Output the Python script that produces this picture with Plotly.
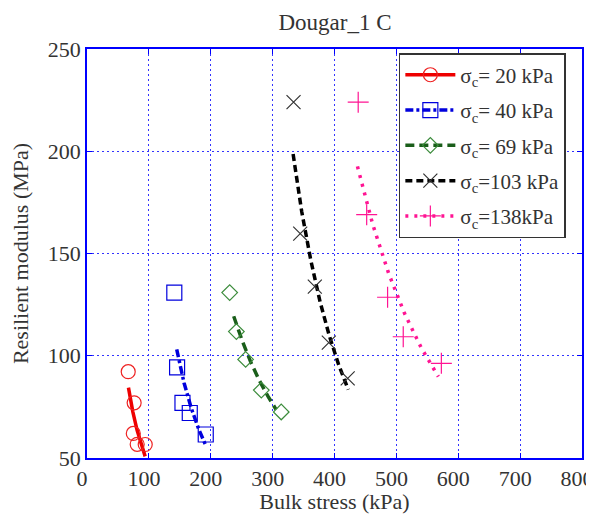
import plotly.graph_objects as go

# measured data points
x20 = [66.6, 76.2, 74.8, 81.1, 94.1]
y20 = [92.2, 77.0, 62.0, 56.7, 56.6]
x40 = [141.1, 145.6, 154.3, 166.1, 191.9]
y40 = [130.9, 94.3, 77.0, 72.0, 61.5]
x69 = [230.6, 241.4, 256.4, 281.7, 313.9]
y69 = [130.9, 111.8, 98.2, 83.2, 72.5]
x103 = [333.8, 344.6, 368.2, 390.8, 421.3]
y103 = [224.0, 159.7, 133.8, 106.4, 88.9]
x138 = [438.3, 452.0, 485.8, 511.1, 572.7]
y138 = [224.0, 169.0, 128.6, 109.3, 96.3]

# fitted curves
fx20 = [67, 74, 81, 88, 94]
fy20 = [84.4, 72.7, 63.5, 56.1, 50.8]
fx40 = [145.0, 156.9, 168.8, 180.7, 191.6]
fy40 = [103.1, 86.7, 74.1, 64.0, 56.4]
fx69 = [237.1, 251.0, 264.8, 278.7, 292.6, 305.4]
fy69 = [119.3, 107.2, 96.8, 87.8, 80.1, 73.8]
fx103 = [333.1, 347.0, 361.9, 376.7, 391.6, 406.4, 422.2]
fy103 = [198.6, 170.5, 146.4, 126.4, 109.8, 95.9, 83.4]
fx138 = [437.1, 461.8, 487.6, 513.3, 540.0, 567.8]
fy138 = [192.6, 164.2, 140.2, 120.6, 104.0, 89.8]

labels = ["σ<sub>c</sub>= 20 kPa", "σ<sub>c</sub>= 40 kPa", "σ<sub>c</sub>= 69 kPa",
          "σ<sub>c</sub>=103 kPa", "σ<sub>c</sub>=138kPa"]

series = [
    (x20, y20, fx20, fy20, "#ee0000", "#ee2222", "circle-open", "solid", 14),
    (x40, y40, fx40, fy40, "#0000dd", "#0000dd", "square-open", "8px,3px,3px,3px", 15),
    (x69, y69, fx69, fy69, "#1a5e1a", "#3c8c3c", "diamond-open", "9px,5px", 12),
    (x103, y103, fx103, fy103, "#000000", "#333333", "x-thin-open", "7px,4px", 14),
    (x138, y138, fx138, fy138, "#ff1493", "#ff1493", "cross-thin-open", "3px,6px", 15),
]

SERIF = "Liberation Serif"

fig = go.Figure()
for i, (xs, ys, fx, fy, lc, mc, sym, dash, ms) in enumerate(series):
    fig.add_trace(go.Scatter(x=fx, y=fy, mode="lines", showlegend=False,
                             line=dict(color=lc, width=3.5, dash=dash)))
    fig.add_trace(go.Scatter(x=xs, y=ys, mode="markers", showlegend=False,
                             marker=dict(symbol=sym, size=ms, color=mc,
                                         line=dict(color=mc, width=1.2))))
    fig.add_trace(go.Scatter(x=[None], y=[None], mode="lines+markers", name=labels[i],
                             legendgroup="g%d" % i,
                             line=dict(color=lc, width=3.5, dash=dash),
                             marker=dict(symbol=sym, size=ms, color=mc,
                                         line=dict(color=mc, width=1.2))))

axis_common = dict(
    showline=True, linecolor="#0000ff", linewidth=1.5, mirror="allticks",
    ticks="inside", tickcolor="#0000ff", ticklen=5, tickwidth=1.2,
    showgrid=True, gridcolor="#3333ff", gridwidth=1, griddash="2px,3px",
    zeroline=False, automargin=False,
    tickfont=dict(family=SERIF, size=22, color="#333"),
)

fig.update_layout(
    width=586, height=506,
    margin=dict(l=79, r=12, t=41, b=56),
    paper_bgcolor="white", plot_bgcolor="white",
    title=dict(text="Dougar_1 C", x=0.558, xanchor="center", y=0.973, yanchor="middle",
               automargin=False,
               font=dict(family=SERIF, size=23, color="#333")),
    xaxis=dict(range=[0, 800], dtick=100, tick0=0, ticklabelshift=-5,
               ticklabeloverflow="allow",
               title=dict(text="Bulk stress (kPa)", standoff=6,
                          font=dict(family=SERIF, size=22, color="#333")),
               **axis_common),
    yaxis=dict(range=[50, 250], dtick=50, tick0=50,
               title=dict(text="Resilient modulus (MPa)", standoff=13,
                          font=dict(family=SERIF, size=22, color="#333")),
               **axis_common),
    legend=dict(x=0.63, y=0.99, xanchor="left", yanchor="top",
                bgcolor="white", bordercolor="#333", borderwidth=1.5,
                font=dict(family=SERIF, size=21, color="#333"),
                itemwidth=50, tracegroupgap=5),
)

fig.write_html("out.html", config={"displayModeBar": False})
